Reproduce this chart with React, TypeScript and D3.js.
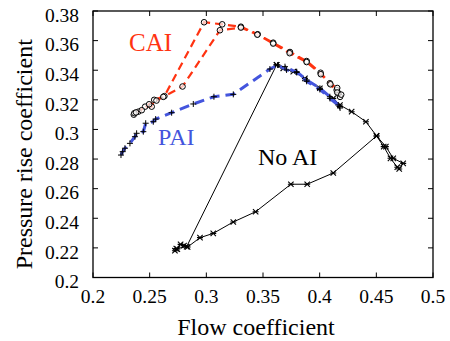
import React from "react";
import * as d3 from "d3";

// ---- data ----
const xTicks = [0.2, 0.25, 0.3, 0.35, 0.4, 0.45, 0.5];
const yTicks = [0.2, 0.22, 0.24, 0.26, 0.28, 0.3, 0.32, 0.34, 0.36, 0.38];

// CAI (closed loop of throttling in / out)
const caiX = [0.418, 0.4165, 0.415, 0.4155, 0.409, 0.4008, 0.3885, 0.3738, 0.359, 0.3453, 0.3305, 0.314, 0.298,
  0.263, 0.254, 0.2518, 0.246, 0.24, 0.236, 0.2365, 0.238, 0.243, 0.2495, 0.256, 0.262, 0.279, 0.312,
  0.3305, 0.345, 0.359, 0.3735, 0.3885, 0.401, 0.4095, 0.4155, 0.419];
const caiY = [0.322, 0.3245, 0.3266, 0.328, 0.3312, 0.3383, 0.3462, 0.3523, 0.3586, 0.3643, 0.3694, 0.371, 0.3724,
  0.3225, 0.32, 0.3154, 0.3154, 0.312, 0.31, 0.311, 0.3115, 0.313, 0.317, 0.3195, 0.322, 0.329, 0.367,
  0.3688, 0.364, 0.358, 0.3515, 0.3455, 0.3373, 0.3305, 0.325, 0.3235];

// PAI
const paiX = [0.2247, 0.2262, 0.2282, 0.2326, 0.237, 0.2385, 0.2444, 0.2465, 0.2532, 0.2553, 0.2694, 0.2885,
  0.3067, 0.3238, 0.3561, 0.3629, 0.3708, 0.3797, 0.3885, 0.4002, 0.409, 0.4164, 0.418,
  0.4175, 0.409, 0.4002, 0.3885, 0.3797, 0.3694];
const paiY = [0.2827, 0.285, 0.2873, 0.2906, 0.2951, 0.2974, 0.2985, 0.3042, 0.3052, 0.307, 0.3113, 0.3172,
  0.3221, 0.3237, 0.3408, 0.3435, 0.3402, 0.339, 0.3334, 0.3278, 0.3221, 0.3165, 0.3145,
  0.3155, 0.321, 0.327, 0.3325, 0.3385, 0.3424];

// No AI
const noX = [0.362, 0.3679, 0.3767, 0.387, 0.4002, 0.412, 0.4179, 0.4282, 0.4408, 0.4502, 0.4584, 0.4649, 0.4737,
  0.4702, 0.4685, 0.4625, 0.4565, 0.4502, 0.412, 0.389, 0.3746, 0.3435, 0.3238, 0.3061, 0.2944, 0.2835, 0.2803,
  0.2773, 0.2744, 0.2723, 0.2735, 0.2826, 0.362];
const noY = [0.3436, 0.3413, 0.339, 0.3345, 0.3278, 0.321, 0.3165, 0.312, 0.3052, 0.2956, 0.2884, 0.2805, 0.2771,
  0.2733, 0.2745, 0.2805, 0.2884, 0.2956, 0.2706, 0.263, 0.263, 0.2444, 0.2375, 0.2298, 0.2269, 0.2206, 0.2215,
  0.2224, 0.2192, 0.2181, 0.2195, 0.2208, 0.3436];

const W = 450, H = 341;
const L = 93, R = 433, T = 11, B = 277.5;
const RED = "#ff3311";
const BLUE = "#4455dd";
const FONT = "Liberation Serif, Times New Roman, DejaVu Serif, serif";

export default function App() {
  const x = d3.scaleLinear().domain([0.2, 0.5]).range([L, R]);
  const y = d3.scaleLinear().domain([0.2, 0.38]).range([B, T]);
  const line = d3.line<[number, number]>().x(d => x(d[0])).y(d => y(d[1]));
  const zip = (a: number[], b: number[]) => a.map((v, i) => [v, b[i]] as [number, number]);
  const cai = zip(caiX, caiY);
  const pai = zip(paiX, paiY);
  const no = zip(noX, noY);
  const tl = 5;
  const ts = { fontFamily: FONT } as React.CSSProperties;

  return (
    <svg width={W} height={H} style={{ position: "absolute", left: 0, top: 0, background: "#fff" }}>
      <defs>
        <clipPath id="plot"><rect x={L} y={T} width={R - L} height={B - T} /></clipPath>
      </defs>
      <g clipPath="url(#plot)">
        <path d={line(no) || ""} fill="none" stroke="#000" strokeWidth={1} />
        {no.map((d, i) => (
          <g key={"n" + i} transform={`translate(${x(d[0])},${y(d[1])})`} stroke="#000" strokeWidth={1.1}>
            <line x1={-2.7} y1={-2.7} x2={2.7} y2={2.7} />
            <line x1={-2.7} y1={2.7} x2={2.7} y2={-2.7} />
            <line x1={-3} y1={0} x2={3} y2={0} />
          </g>
        ))}
        <path d={line(pai) || ""} fill="none" stroke={BLUE} strokeWidth={3} strokeDasharray="10,6" />
        {pai.map((d, i) => (
          <g key={"p" + i} transform={`translate(${x(d[0])},${y(d[1])})`} stroke="#000" strokeWidth={1}>
            <line x1={-3} y1={0} x2={3} y2={0} />
            <line x1={0} y1={-3} x2={0} y2={3} />
          </g>
        ))}
        <path d={line(cai) || ""} fill="none" stroke={RED} strokeWidth={2.2} strokeDasharray="8,5" />
        {cai.map((d, i) => (
          <circle key={"c" + i} cx={x(d[0])} cy={y(d[1])} r={2.8} fill="#fff" fillOpacity={0.7} stroke="#000" strokeWidth={1} />
        ))}
      </g>

      {/* frame */}
      <rect x={L} y={T} width={R - L} height={B - T} fill="none" stroke="#000" strokeWidth={1.3} />
      {xTicks.map(t => (
        <g key={"xt" + t}>
          <line x1={x(t)} x2={x(t)} y1={B} y2={B - tl} stroke="#000" />
          <line x1={x(t)} x2={x(t)} y1={T} y2={T + tl} stroke="#000" />
          <text x={x(t)} y={303} textAnchor="middle" style={ts} fontSize={19.5} fill="#000">{String(t)}</text>
        </g>
      ))}
      {yTicks.map(t => (
        <g key={"yt" + t}>
          <line x1={L} x2={L + tl} y1={y(t)} y2={y(t)} stroke="#000" />
          <line x1={R} x2={R - tl} y1={y(t)} y2={y(t)} stroke="#000" />
          <text x={79} y={y(t) + 10.7} textAnchor="end" style={ts} fontSize={19.5} fill="#000">{String(t)}</text>
        </g>
      ))}
      <text x={256} y={335} textAnchor="middle" style={ts} fontSize={24} fill="#000">Flow coefficient</text>
      <text transform={`translate(32,${(T + B) / 2 + 10}) rotate(-90)`} textAnchor="middle" style={ts} fontSize={24} fill="#000">Pressure rise coefficient</text>

      <text x={129} y={50.5} style={ts} fontSize={25} fill={RED}>CAI</text>
      <text x={158} y={145} style={ts} fontSize={24} fill={BLUE}>PAI</text>
      <text x={258} y={165} style={ts} fontSize={24} fill="#000">No AI</text>
    </svg>
  );
}
